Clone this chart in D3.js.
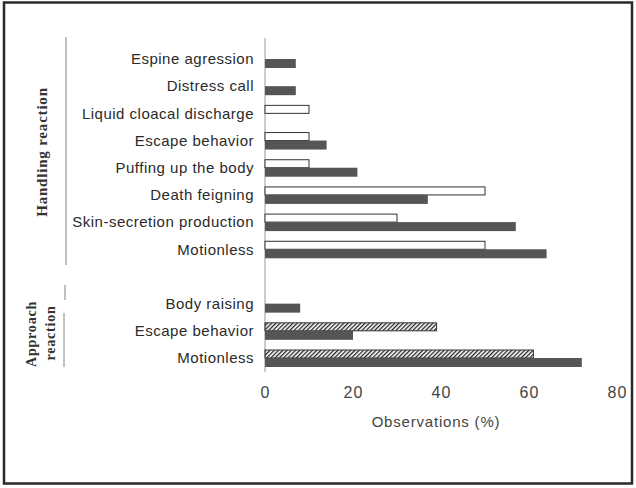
<!DOCTYPE html>
<html>
<head>
<meta charset="utf-8">
<script src="https://cdn.jsdelivr.net/npm/d3@7"></script>
<style>
  body { margin: 0; background: #fff; }
  svg { display: block; }
</style>
</head>
<body>
<div id="chart"></div>
<script>
// handling reaction: white (outlined) bar on top, dark bar below
const handlingCats  = ["Espine agression", "Distress call", "Liquid cloacal discharge", "Escape behavior",
                       "Puffing up the body", "Death feigning", "Skin-secretion production", "Motionless"];
const handlingUpper = [0, 0, 10, 10, 10, 50, 30, 50];
const handlingLower = [7, 7, 0, 14, 21, 37, 57, 64];

// approach reaction: hatched bar on top, dark bar below
const approachCats  = ["Body raising", "Escape behavior", "Motionless"];
const approachUpper = [0, 39, 61];
const approachLower = [8, 20, 72];

const xTicks = [0, 20, 40, 60, 80];

const width = 636, height = 488;
const sans = "Liberation Sans, Arial, sans-serif";
const serif = "Liberation Serif, Times New Roman, serif";

const svg = d3.select("#chart").append("svg")
    .attr("width", width)
    .attr("height", height);

// frame round the whole figure
svg.append("rect")
    .attr("x", 4).attr("y", 2.5)
    .attr("width", 628).attr("height", 481)
    .attr("fill", "none")
    .attr("stroke", "#2a2a2a")
    .attr("stroke-width", 2.5);

// hatch pattern
const defs = svg.append("defs");
defs.append("pattern")
    .attr("id", "hatch")
    .attr("patternUnits", "userSpaceOnUse")
    .attr("width", 3).attr("height", 3)
    .attr("patternTransform", "rotate(45)")
  .append("rect")
    .attr("width", 1.3).attr("height", 3)
    .attr("fill", "#222");

// one row per category, plus an empty slot between the two groups
const rows = [];
handlingCats.forEach((c, i) => rows.push({key: "h" + i, name: c, upper: handlingUpper[i], lower: handlingLower[i], group: "h"}));
rows.push({key: "gap", name: "", upper: 0, lower: 0, group: "none"});
approachCats.forEach((c, i) => rows.push({key: "a" + i, name: c, upper: approachUpper[i], lower: approachLower[i], group: "a"}));

const x = d3.scaleLinear().domain([0, 80]).range([265, 617]);
const y = d3.scalePoint().domain(rows.map(d => d.key)).range([59, 358]);

const upperH = 8, lowerH = 9;

// y axis line
svg.append("line")
    .attr("x1", x(0)).attr("x2", x(0))
    .attr("y1", 38).attr("y2", 372)
    .attr("stroke", "#999")
    .attr("stroke-width", 1);

const data = rows.filter(d => d.group !== "none");

// upper bars
svg.append("g")
  .selectAll("rect")
  .data(data.filter(d => d.upper > 0))
  .join("rect")
    .attr("x", x(0))
    .attr("y", d => y(d.key) - upperH)
    .attr("width", d => x(d.upper) - x(0))
    .attr("height", upperH)
    .attr("fill", d => d.group === "a" ? "url(#hatch)" : "#fff")
    .attr("stroke", "#333")
    .attr("stroke-width", 1);

// lower (dark) bars
svg.append("g")
    .attr("fill", "#555")
  .selectAll("rect")
  .data(data.filter(d => d.lower > 0))
  .join("rect")
    .attr("x", x(0))
    .attr("y", d => y(d.key))
    .attr("width", d => x(d.lower) - x(0))
    .attr("height", lowerH);

// category labels
svg.append("g")
    .attr("font-family", sans)
    .attr("font-size", 15)
    .attr("letter-spacing", 0.5)
    .attr("fill", "#2a2a2a")
    .attr("text-anchor", "end")
  .selectAll("text")
  .data(data)
  .join("text")
    .attr("x", 254)
    .attr("y", d => y(d.key))
    .attr("dy", "0.35em")
    .text(d => d.name);

// x tick labels (no axis line, no tick marks)
const xAxis = g => g
    .attr("transform", `translate(0,387)`)
    .call(d3.axisBottom(x).tickValues(xTicks).tickSize(0).tickPadding(0))
    .call(g => g.select(".domain").remove())
    .call(g => g.selectAll("text")
        .attr("font-family", sans)
        .attr("font-size", 16)
        .attr("letter-spacing", 1)
        .attr("fill", "#444"));
svg.append("g").call(xAxis);

svg.append("text")
    .attr("x", 436).attr("y", 427)
    .attr("text-anchor", "middle")
    .attr("font-family", sans)
    .attr("font-size", 15)
    .attr("letter-spacing", 0.8)
    .attr("fill", "#444")
    .text("Observations (%)");

// group labels
svg.append("line")
    .attr("x1", 66).attr("x2", 66)
    .attr("y1", 37).attr("y2", 265)
    .attr("stroke", "#aaa").attr("stroke-width", 1.5);
svg.append("text")
    .attr("transform", "translate(47,152) rotate(-90)")
    .attr("text-anchor", "middle")
    .attr("font-family", serif)
    .attr("font-weight", "bold")
    .attr("font-size", 15)
    .attr("letter-spacing", 0.8)
    .attr("fill", "#333")
    .text("Handling reaction");

svg.append("line")
    .attr("x1", 65).attr("x2", 65)
    .attr("y1", 285).attr("y2", 300)
    .attr("stroke", "#aaa").attr("stroke-width", 1.5);
svg.append("line")
    .attr("x1", 64).attr("x2", 64)
    .attr("y1", 313).attr("y2", 367)
    .attr("stroke", "#888").attr("stroke-width", 1);
svg.append("text")
    .attr("transform", "translate(36,334) rotate(-90)")
    .attr("text-anchor", "middle")
    .attr("font-family", serif)
    .attr("font-weight", "bold")
    .attr("font-size", 14)
    .attr("letter-spacing", 0.8)
    .attr("fill", "#333")
    .text("Approach");
svg.append("text")
    .attr("transform", "translate(55,333) rotate(-90)")
    .attr("text-anchor", "middle")
    .attr("font-family", serif)
    .attr("font-weight", "bold")
    .attr("font-size", 14)
    .attr("letter-spacing", 0.8)
    .attr("fill", "#333")
    .text("reaction");
</script>
</body>
</html>
